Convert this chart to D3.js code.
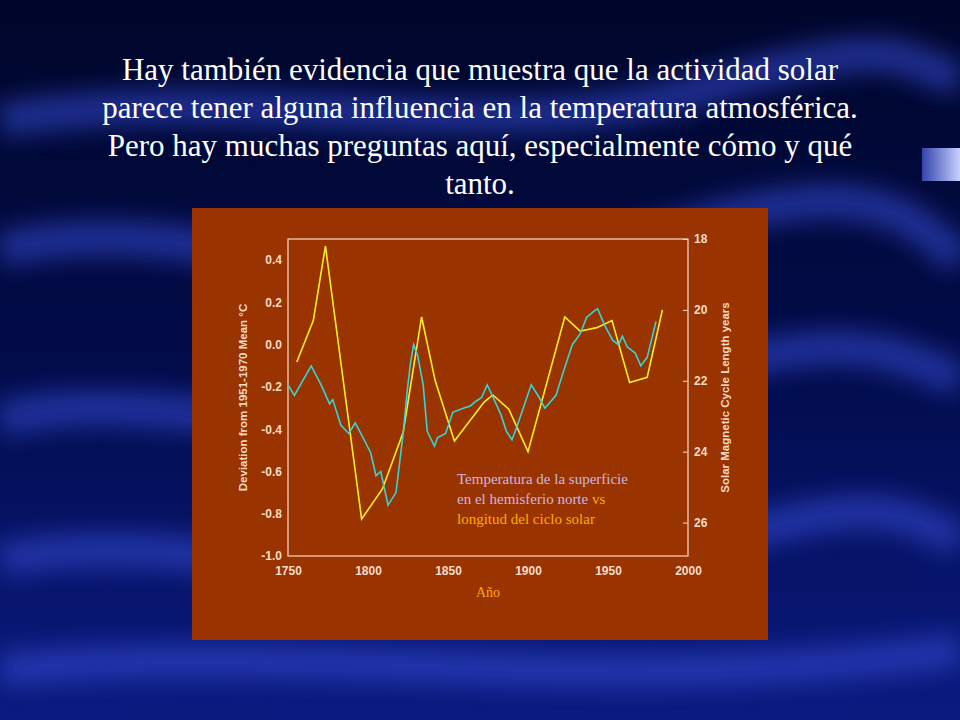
<!DOCTYPE html>
<html><head><meta charset="utf-8">
<script src="https://cdn.jsdelivr.net/npm/d3@7"></script>
<style>body{margin:0;background:#000033}</style></head>
<body><div id="chart"></div>
<script>
// temperature deviation (cyan) — year, °C
const tempYears = [1750,1754,1764.5,1770.7,1776,1778,1783,1788,1792,1795.5,1801.6,1805,1808,1812.5,1817.5,1822,1824.5,1826.5,1828.5,1831,1834.5,1837,1841.5,1843.5,1848.5,1853,1860,1864,1867,1871,1874.5,1877,1883,1886.5,1890,1893,1902,1907,1910.5,1913,1917.5,1922,1927.7,1932.5,1936.7,1941.5,1943.5,1948,1953,1956.6,1959,1962,1967,1970.5,1974.5,1980];
const tempValues = [-0.19,-0.24,-0.10,-0.19,-0.28,-0.26,-0.38,-0.42,-0.37,-0.42,-0.51,-0.62,-0.60,-0.76,-0.70,-0.42,-0.22,-0.09,0.0,-0.05,-0.19,-0.41,-0.48,-0.44,-0.42,-0.32,-0.30,-0.29,-0.27,-0.25,-0.19,-0.23,-0.33,-0.41,-0.45,-0.39,-0.19,-0.25,-0.30,-0.28,-0.24,-0.13,0.0,0.05,0.13,0.16,0.17,0.09,0.02,0.0,0.04,-0.01,-0.04,-0.10,-0.06,0.11];
// solar cycle length (yellow) — year, years
const cycleYears = [1755.5,1765.8,1773.4,1796,1809,1822,1833.5,1842,1854,1872.6,1878,1888,1900,1923,1932.6,1943,1952.5,1963.5,1974.5,1984];
const cycleValues = [21.47,20.3,18.2,25.9,25.05,23.45,20.2,22.0,23.7,22.6,22.4,22.8,24.0,20.2,20.6,20.5,20.3,22.05,21.9,20.0];
const xTicks = [1750,1800,1850,1900,1950,2000];
const leftTicks = [0.4,0.2,0.0,-0.2,-0.4,-0.6,-0.8,-1.0];
const rightTicks = [18,20,22,24,26];
const titleLines = ["Hay también evidencia que muestra que la actividad solar","parece tener alguna influencia en la temperatura atmosférica.","Pero hay muchas preguntas aquí, especialmente cómo y qué","tanto."];

const W = 960, H = 720;
const svg = d3.select("#chart").append("svg").attr("width", W).attr("height", H);
const defs = svg.append("defs");
const bg = defs.append("linearGradient").attr("id","bg").attr("x1",0).attr("y1",0).attr("x2",0).attr("y2",1);
bg.append("stop").attr("offset",0).attr("stop-color","#00062a");
bg.append("stop").attr("offset",0.5).attr("stop-color","#020c4a");
bg.append("stop").attr("offset",1).attr("stop-color","#0a1a80");
defs.append("filter").attr("id","blur").append("feGaussianBlur").attr("stdDeviation",12);
svg.append("rect").attr("width",W).attr("height",H).attr("fill","url(#bg)");

// wavy background bands
const waves = [
  "M0,250 C200,200 400,330 620,250 S900,200 960,260",
  "M0,420 C150,380 300,460 560,400 S850,330 960,380",
  "M0,560 C200,520 420,620 640,560 S880,500 960,540",
  "M0,120 C250,80 500,150 700,90 S900,60 960,80",
  "M0,670 C300,640 600,700 960,650"
];
svg.append("g").attr("filter","url(#blur)").selectAll("path").data(waves).join("path")
  .attr("d", d => d).attr("fill","none").attr("stroke","#3048d0").attr("stroke-width",34).attr("opacity",0.6);

// right side tab
const tab = defs.append("linearGradient").attr("id","tab");
tab.append("stop").attr("offset",0).attr("stop-color","#3344aa");
tab.append("stop").attr("offset",1).attr("stop-color","#c8d0ff");
svg.append("rect").attr("x",922).attr("y",148).attr("width",38).attr("height",33).attr("fill","url(#tab)");

// title
svg.append("g").selectAll("text").data(titleLines).join("text")
  .attr("x",480).attr("y",(d,i)=>80+i*38).attr("text-anchor","middle")
  .attr("fill","#fff").attr("font-family","Liberation Serif, serif").attr("font-size",31)
  .text(d=>d);

// panel
svg.append("rect").attr("x",192).attr("y",208).attr("width",576).attr("height",432).attr("fill","#993300");

const pLeft = 288, pRight = 688, pTop = 239, pBottom = 556;
const x = d3.scaleLinear().domain([1750,2000]).range([pLeft,pRight]);
const yL = d3.scaleLinear().domain([-1.0,0.5]).range([pBottom,pTop]);
const yR = d3.scaleLinear().domain([18,18+(pBottom-pTop)/35.45]).range([pTop,pBottom]);
const axCol = "#f5dcc8";
const fontA = "Liberation Sans, Arial, sans-serif";

svg.append("rect").attr("x",pLeft).attr("y",pTop).attr("width",pRight-pLeft).attr("height",pBottom-pTop)
  .attr("fill","none").attr("stroke",axCol).attr("stroke-width",1.2);

function styleAxis(g){
  g.select(".domain").remove();
  g.selectAll("line").attr("stroke",axCol);
  g.selectAll("text").attr("fill",axCol).attr("font-family",fontA).attr("font-weight","bold").attr("font-size",12)
    .each(function(){this.textContent=this.textContent.replace("−","-");});
}
svg.append("g").attr("transform",`translate(0,${pBottom})`)
  .call(d3.axisBottom(x).tickValues(xTicks).tickFormat(d3.format("d")).tickSize(0).tickPadding(10)).call(styleAxis);
svg.append("g").attr("transform",`translate(${pLeft},0)`)
  .call(d3.axisLeft(yL).tickValues(leftTicks).tickFormat(d3.format(".1f")).tickSize(0).tickPadding(6)).call(styleAxis);
svg.append("g").attr("transform",`translate(${pRight},0)`)
  .call(d3.axisRight(yR).tickValues(rightTicks).tickSize(-5).tickPadding(6)).call(styleAxis);

svg.append("text").attr("transform",`translate(247,${(pTop+pBottom)/2}) rotate(-90)`).attr("text-anchor","middle")
  .attr("fill",axCol).attr("font-family",fontA).attr("font-weight","bold").attr("font-size",11.5)
  .text("Deviation from 1951-1970 Mean °C");
svg.append("text").attr("transform",`translate(729,${(pTop+pBottom)/2}) rotate(-90)`).attr("text-anchor","middle")
  .attr("fill",axCol).attr("font-family",fontA).attr("font-weight","bold").attr("font-size",11.5)
  .text("Solar Magnetic Cycle Length years");

const tempLine = d3.line().x((d,i)=>x(tempYears[i])).y(d=>yL(d));
const cycleLine = d3.line().x((d,i)=>x(cycleYears[i])).y(d=>yR(d));
svg.append("path").attr("d",cycleLine(cycleValues)).attr("fill","none").attr("stroke","#ffee22").attr("stroke-width",1.6);
svg.append("path").attr("d",tempLine(tempValues)).attr("fill","none").attr("stroke","#33d6d6").attr("stroke-width",1.6);

// legend
const serif = "Liberation Serif, serif";
const lg = svg.append("g").attr("font-family",serif).attr("font-size",15);
lg.append("text").attr("x",457).attr("y",484).attr("fill","#c8b8e0").text("Temperatura  de la superficie");
const l2 = lg.append("text").attr("x",457).attr("y",504).attr("fill","#c8b8e0");
l2.append("tspan").text("en el hemisferio norte ");
l2.append("tspan").attr("fill","#ffaa00").text("vs");
lg.append("text").attr("x",457).attr("y",524).attr("fill","#ffaa00").text("longitud del ciclo solar");
svg.append("text").attr("x",488).attr("y",597).attr("text-anchor","middle").attr("fill","#ffaa00")
  .attr("font-family",serif).attr("font-size",14).text("Año");
</script></body></html>
